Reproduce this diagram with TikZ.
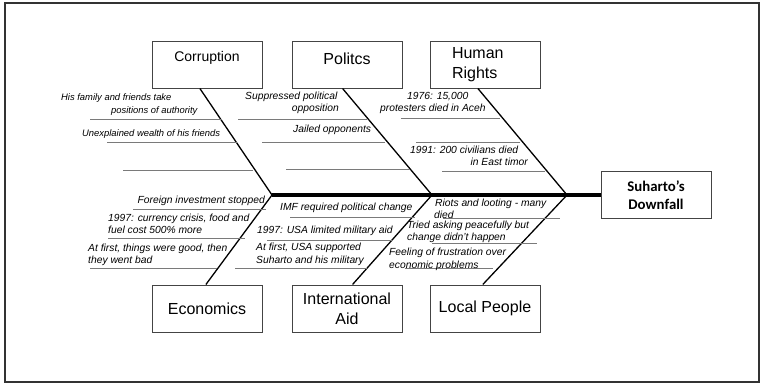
\documentclass[tikz,border=0pt]{standalone}
\usepackage{fontspec}
\setmainfont{Liberation Sans}
\newfontfamily\calib{Carlito}
\usetikzlibrary{calc}
\definecolor{boxline}{HTML}{444444}
\definecolor{uline}{HTML}{7A7A7A}
\begin{document}
\begin{tikzpicture}[x=1pt,y=-1pt,
  catbox/.style={draw=boxline, line width=1pt, minimum width=110pt, minimum height=47pt, inner sep=2pt, font=\fontsize{16}{20}\selectfont},
  goalbox/.style={draw=boxline, line width=1pt, minimum width=110pt, minimum height=47pt, inner sep=2pt, align=center, font=\calib\bfseries\fontsize{14.8}{18}\selectfont},
  bone/.style={line width=1.3pt, draw=black},
  spine/.style={line width=3.5pt, draw=black},
  uln/.style={line width=0.9pt, draw=uline},
  note/.style={inner sep=0pt, font=\itshape\fontsize{10.3}{12}\selectfont},
  cnote/.style={inner sep=0pt, font=\itshape\fontsize{9.4}{11}\selectfont}]
\useasboundingbox (0,0) rectangle (760,383);
\draw[line width=2pt, draw=black!80] (5,2.5) rectangle (758.5,381.5);

% category boxes
\node[catbox, font=\fontsize{14}{16}\selectfont, text height=12pt, text depth=19pt] (corr) at (207,64.5) {Corruption};
\node[catbox, text height=12pt, text depth=12pt] (pol) at (347,64.5) {Politcs};
\node[catbox, text width=66pt, align=left] (hum) at (485,64.5) {Human\\Rights};
\node[catbox] (eco) at (207,308.5) {Economics};
\node[catbox, align=center] (aid) at (347,308.5) {International\\Aid};
\node[catbox] (loc) at (485,308.5) {Local People};
\node[goalbox] (goal) at (656,195) {Suharto’s\\Downfall};

% spine junctions
\coordinate (j1) at (272,195);
\coordinate (j2) at (432,195);
\coordinate (j3) at (567,195);

\draw[spine] (j1) -- (goal.west);
\draw[bone] ($(corr.south west)!0.436!(corr.south east)$) -- (j1);
\draw[bone] ($(pol.south west)!0.46!(pol.south east)$) -- (j2);
\draw[bone] ($(hum.south west)!0.436!(hum.south east)$) -- (j3);
\draw[bone] ($(eco.north west)!0.49!(eco.north east)$) -- (j1);
\draw[bone] ($(aid.north west)!0.55!(aid.north east)$) -- (j2);
\draw[bone] ($(loc.north west)!0.48!(loc.north east)$) -- (j3);

% underlines
\draw[uln] (90,119) -- (222,119);
\draw[uln] (107,142) -- (237,142);
\draw[uln] (123,170) -- (253,170);
\draw[uln] (238,119) -- (367,119);
\draw[uln] (262,142) -- (385,142);
\draw[uln] (286,169) -- (410,169);
\draw[uln] (401,118) -- (500,118);
\draw[uln] (416,142) -- (520,142);
\draw[uln] (442,171) -- (545,171);
\draw[uln] (133,209) -- (266,209);
\draw[uln] (108,238) -- (245,238);
\draw[uln] (90,268) -- (217,268);
\draw[uln] (290,217) -- (415,217);
\draw[uln] (267,240) -- (393,240);
\draw[uln] (235,268) -- (367,268);
\draw[uln] (443,218) -- (560,218);
\draw[uln] (432,243) -- (537,243);
\draw[uln] (405,268) -- (493,268);

% Corruption notes
\node[cnote, anchor=base west] (c1a) at (61,100) {His family and friends take};
\node[cnote, anchor=base west] (c1b) at (111,113) {positions of authority};
\node[cnote, anchor=base west] (c2) at (82,136) {Unexplained wealth of his friends};
% Politics notes
\node[note, anchor=base west] (p1a) at (245,99.5) {Suppressed political};
\node[note, anchor=base east] (p1b) at (339,111.5) {opposition};
\node[note, anchor=base west] (p2) at (293,132.5) {Jailed opponents};
% Human rights notes
\node[note, anchor=base west] (h1a) at (407,99.5) {1976: 15,000};
\node[note, anchor=base west] (h1b) at (380,111.5) {protesters died in Aceh};
\node[note, anchor=base west] (h2a) at (410,153.5) {1991: 200 civilians died};
\node[note, anchor=base east] (h2b) at (528,165.5) {in East timor};
% Economics notes
\node[note, anchor=base east] (e1) at (265,203.5) {Foreign investment stopped};
\node[note, anchor=base west] (e2a) at (108,221.5) {1997: currency crisis, food and};
\node[note, anchor=base west] (e2b) at (108,233.5) {fuel cost 500\% more};
\node[note, anchor=base west] (e3a) at (88,251.5) {At first, things were good, then};
\node[note, anchor=base west] (e3b) at (88,263.5) {they went bad};
% International aid notes
\node[note, anchor=base west] (a1) at (280,210.5) {IMF required political change};
\node[note, anchor=base west] (a2) at (257,233.5) {1997: USA limited military aid};
\node[note, anchor=base west] (a3a) at (256,250.5) {At first, USA supported};
\node[note, anchor=base west] (a3b) at (256,263.5) {Suharto and his military};
% Local people notes
\node[note, anchor=base west] (l1a) at (435,206.5) {Riots and looting - many};
\node[note, anchor=base west] (l1b) at (434,218.5) {died};
\node[note, anchor=base west] (l2a) at (407,228.5) {Tried asking peacefully but};
\node[note, anchor=base west] (l2b) at (407,240.5) {change didn’t happen};
\node[note, anchor=base west] (l3a) at (389,255.5) {Feeling of frustration over};
\node[note, anchor=base west] (l3b) at (389,268.5) {economic problems};
\end{tikzpicture}
\end{document}
